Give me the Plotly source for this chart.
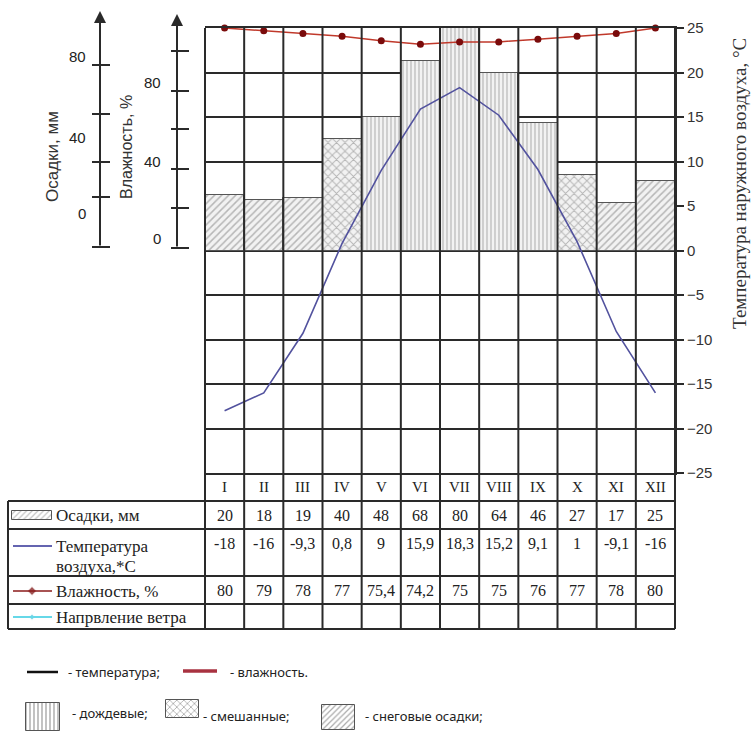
import plotly.graph_objects as go

# ---------------- data ----------------
months = ["I", "II", "III", "IV", "V", "VI", "VII", "VIII", "IX", "X", "XI", "XII"]
precip = [20, 18, 19, 40, 48, 68, 80, 64, 46, 27, 17, 25]            # мм
temperature = [-18, -16, -9.3, 0.8, 9, 15.9, 18.3, 15.2, 9.1, 1, -9.1, -16]  # °C
humidity = [80, 79, 78, 77, 75.4, 74.2, 75, 75, 76, 77, 78, 80]      # %
precip_type = ["snow", "snow", "snow", "mixed", "rain", "rain", "rain", "rain",
               "rain", "mixed", "snow", "snow"]
temp_range = [-25, 25]
temp_dtick = 5
precip_range = [-80, 80]
precip_axis_labels = ["80", "40", "0"]
humidity_axis_labels = ["80", "40", "0"]

# ---------------- geometry helpers ----------------
W, H = 756, 733
def px(x): return x / W
def py(y): return 1 - y / H

PL, PR, PT, PB = 205, 675, 28, 473     # plot area in pixels
TL = 8                                  # table left edge
ROWS = [473, 501, 529, 576, 604, 629]  # table horizontal lines
INK = "#2a2a2a"
TXT = "#333333"
SERIF = "Liberation Serif"
SANS = "Liberation Sans"
CLEAR = "rgba(0,0,0,0)"

pattern_shape = {"snow": "/", "mixed": "x", "rain": "|"}
pattern_size = {"snow": 5, "mixed": 6, "rain": 4}

def fmt(v):
    return f"{v:g}".replace(".", ",")

n = len(months)
xs = list(range(n))

fig = go.Figure()

# precipitation bars (main y axis, precipitation scale)
fig.add_trace(go.Bar(
    x=xs, y=precip, width=1, yaxis="y", xaxis="x",
    marker=dict(color="#f2f2f2", line=dict(color="#555555", width=1),
                pattern=dict(shape=[pattern_shape[t] for t in precip_type],
                             size=[pattern_size[t] for t in precip_type],
                             fgcolor="#7a7a7a", bgcolor="#f2f2f2", solidity=0.3)),
    showlegend=False, hoverinfo="skip"))

# humidity line (same scale as precipitation)
fig.add_trace(go.Scatter(
    x=xs, y=humidity, mode="lines+markers", yaxis="y2", xaxis="x",
    line=dict(color="#c0392b", width=1.5),
    marker=dict(size=7, color="#7a0b0b"), cliponaxis=False, showlegend=False))

# temperature line (temperature scale, drawn on top)
fig.add_trace(go.Scatter(
    x=xs, y=temperature, mode="lines", yaxis="y3", xaxis="x",
    line=dict(color="#52529e", width=1.6), showlegend=False))

shapes = []
annotations = []

def note(x, y, t, xref="paper", xanchor="center", size=14, fam=SERIF, color="#222", angle=0):
    annotations.append(dict(x=x, y=y, xref=xref, yref="paper", text=t, showarrow=False,
                            xanchor=xanchor, yanchor="middle", textangle=angle,
                            font=dict(family=fam, size=size, color=color)))

# vertical month boundaries through plot and table
colw = (PR - PL) / n
for i in range(n + 1):
    xv = PL + i * colw
    shapes.append(dict(type="line", xref="paper", yref="paper",
                       x0=px(xv), x1=px(xv), y0=py(ROWS[-1]), y1=py(PT),
                       line=dict(color=INK, width=2), layer="above"))
# table left border and horizontal rows
shapes.append(dict(type="line", xref="paper", yref="paper", x0=px(TL), x1=px(TL),
                   y0=py(ROWS[1]), y1=py(ROWS[-1]), line=dict(color=INK, width=2)))
for yv in ROWS[1:]:
    shapes.append(dict(type="line", xref="paper", yref="paper", x0=px(TL), x1=px(PR),
                       y0=py(yv), y1=py(yv), line=dict(color=INK, width=2)))

# month header + table values
row_y = {"m": 487, "p": 515, "t": 543, "h": 590}
for i, m in enumerate(months):
    note(i, py(row_y["m"]), m, xref="x", size=15)
    note(i, py(row_y["p"]), fmt(precip[i]), xref="x", size=16)
    note(i, py(row_y["t"]), fmt(temperature[i]), xref="x", size=16)
    note(i, py(row_y["h"]), fmt(humidity[i]), xref="x", size=16)

# table row labels
def lab(x, y, t, size=17, fam=SERIF, anchor="left"):
    note(px(x), py(y), t, xanchor=anchor, size=size, fam=fam)
lab(54, 515, "Осадки, мм")
lab(54, 546, "Температура")
lab(54, 566, "воздуха,*С")
lab(54, 591, "Влажность, %")
lab(54, 617, "Напрвление ветра")

def hline(x0, x1, y, color, width):
    shapes.append(dict(type="line", xref="paper", yref="paper", x0=px(x0), x1=px(x1),
                       y0=py(y), y1=py(y), line=dict(color=color, width=width)))
hline(13, 52, 546, "#6464b0", 2)
hline(13, 52, 591, "#8b1a1a", 1.5)
hline(13, 52, 617, "#66d8e8", 2)

# legend swatches on a full-page overlay axis (pixel units)
def swatch(x0, x1, y0, y1, shape, size, fg):
    fig.add_trace(go.Bar(x=[(x0 + x1) / 2], y=[y1 - y0], base=[y0], width=[x1 - x0],
                         xaxis="x2", yaxis="y4", showlegend=False, hoverinfo="skip",
                         marker=dict(color="#ffffff", line=dict(color="#555555", width=1),
                                     pattern=dict(shape=shape, size=size, fgcolor=fg,
                                                  bgcolor="#ffffff", solidity=0.3))))
swatch(12, 52, 511, 520, "/", 4, "#888888")
swatch(26, 60, 703, 731, "|", 4, "#333333")
swatch(166, 199, 700, 718, "x", 5, "#555555")
swatch(322, 355, 705, 730, "/", 4, "#555555")
fig.add_trace(go.Scatter(x=[32, 32], y=[591, 617], xaxis="x2", yaxis="y4", mode="markers",
                         marker=dict(symbol="diamond", size=[7, 5], color=["#7a0b0b", "#55c8e0"]),
                         showlegend=False, hoverinfo="skip"))

# bottom legend
hline(27, 58, 672, "#111111", 2.5)
hline(183, 217, 671, "#a83240", 3.5)
def leg(x, y, t):
    note(px(x), py(y), t, xanchor="left", size=13, fam="Noto Sans")
leg(66, 672, "- температура;")
leg(228, 672, "- влажность.")
leg(70, 713, "- дождевые;")
leg(201, 716, "- смешанные;")
leg(363, 716, "- снеговые осадки;")

# decorative left axes (Осадки / Влажность)
def arrow_axis(x, ytop, ybot, ticks, tx0, tx1):
    annotations.append(dict(x=px(x), y=py(ytop), xref="paper", yref="paper",
                            ax=0, ay=ybot - ytop, axref="pixel", ayref="pixel",
                            text="", showarrow=True,
                            arrowhead=2, arrowsize=1.2, arrowwidth=2, arrowcolor=INK))
    for t in ticks:
        hline(tx0, tx1, t, INK, 2)
arrow_axis(100, 11, 247, [65, 114, 162, 197, 247], 92, 110)
arrow_axis(177, 14, 248, [51, 91, 129, 169, 208, 248], 171, 189)
for t, y in zip(precip_axis_labels, [57, 137, 213]):
    lab(88, y, t, size=15, fam=SANS, anchor="right")
for t, y in zip(humidity_axis_labels, [82, 162, 238]):
    lab(163, y, t, size=15, fam=SANS, anchor="right")
note(px(52), py(157), "Осадки, мм", size=17, fam=SANS, color=TXT, angle=-90)
note(px(126), py(147), "Влажность, %", size=16, fam=SANS, color=TXT, angle=-90)
# right axis title
note(px(739), py(184), "Температура наружного воздуха, °С", size=19, fam=SERIF,
     color=TXT, angle=-90)

fig.update_layout(
    width=W, height=H, margin=dict(l=0, r=0, t=0, b=0, autoexpand=False),
    paper_bgcolor="white", plot_bgcolor=CLEAR,
    bargap=0, showlegend=False,
    xaxis=dict(domain=[px(PL), px(PR)], range=[-0.5, n - 0.5], showgrid=False,
               showticklabels=False, ticks="", zeroline=False,
               showline=True, mirror=True, linecolor=INK, linewidth=2, anchor="y"),
    yaxis=dict(domain=[py(PB), py(PT)], range=precip_range, anchor="x",
               showgrid=False, zeroline=False, showticklabels=False, ticks="",
               showline=False),
    yaxis2=dict(range=precip_range, overlaying="y", anchor="x", visible=False),
    yaxis3=dict(range=temp_range, dtick=temp_dtick, tick0=temp_range[0], overlaying="y",
                side="right", anchor="x", showgrid=True, gridcolor=INK, gridwidth=2,
                zeroline=False, showline=True, linecolor=INK, linewidth=2,
                ticks="outside", ticklen=7, tickwidth=2, tickcolor=INK,
                tickfont=dict(family=SANS, size=15, color=TXT)),
    yaxis5=dict(range=temp_range, dtick=temp_dtick, tick0=temp_range[0], overlaying="y",
                side="left", anchor="x", showgrid=False, zeroline=False, showticklabels=False,
                ticks="outside", ticklen=5, tickwidth=2, tickcolor=INK,
                showline=True, linecolor=INK, linewidth=2),
    xaxis2=dict(domain=[0, 1], range=[0, W], visible=False, anchor="y4", fixedrange=True),
    yaxis4=dict(domain=[0, 1], range=[H, 0], visible=False, anchor="x2", fixedrange=True),
    shapes=shapes, annotations=annotations,
)
fig.write_html("out.html")
